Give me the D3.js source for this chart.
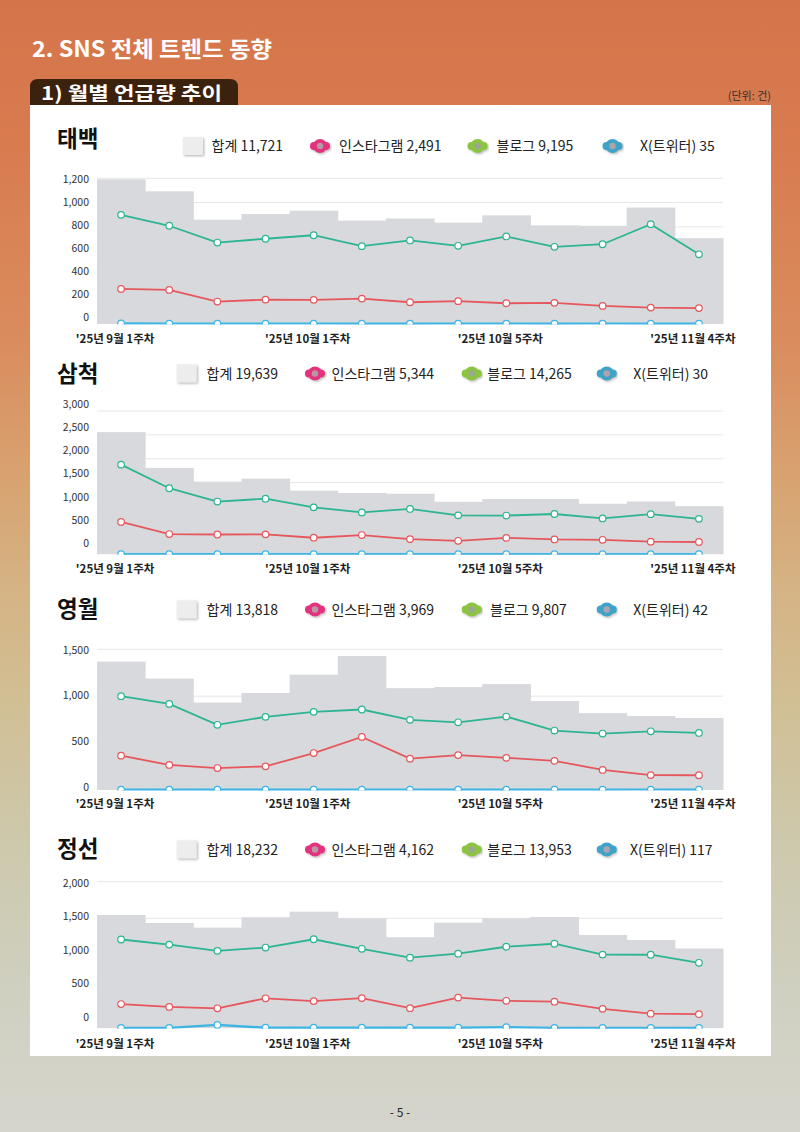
<!DOCTYPE html>
<html><head><meta charset="utf-8">
<script src="https://cdn.jsdelivr.net/npm/d3@7"></script>
<style>
html,body{margin:0;padding:0;}
body{width:800px;height:1132px;overflow:hidden;}
svg{display:block;font-family:"Noto Sans CJK KR","Noto Sans",sans-serif;}
</style></head><body>
<svg id="c" width="800" height="1132"></svg>
<script>
// ---------------- data ----------------
const weeks = ["'25년 9월 1주차","'25년 9월 2주차","'25년 9월 3주차","'25년 9월 4주차",
  "'25년 10월 1주차","'25년 10월 2주차","'25년 10월 3주차","'25년 10월 4주차","'25년 10월 5주차",
  "'25년 11월 1주차","'25년 11월 2주차","'25년 11월 3주차","'25년 11월 4주차"];
const xTickWeeks = ["'25년 9월 1주차","'25년 10월 1주차","'25년 10월 5주차","'25년 11월 4주차"];
const regions = ["태백","삼척","영월","정선"];
const seriesNames = ["합계","인스타그램","블로그","X(트위터)"];

const taebaekInsta = [289,281,185,201,199,209,179,188,171,174,149,135,131];
const taebaekBlog  = [899,809,671,702,731,641,688,644,721,636,657,822,574];
const taebaekX     = [4,3,3,3,3,2,2,3,3,2,3,2,2];
const taebaekLegend = [11721,2491,9195,35];
const taebaekTicks = [0,200,400,600,800,1000,1200];

const samcheokInsta = [678,424,415,418,347,403,318,283,343,311,304,265,257];
const samcheokBlog  = [1877,1383,1104,1164,983,877,949,815,811,844,751,840,742];
const samcheokX     = [3,2,2,2,2,3,2,2,3,2,3,2,2];
const samcheokLegend = [19639,5344,14265,30];
const samcheokTicks = [0,500,1000,1500,2000,2500,3000];

const yeongwolInsta = [366,267,234,252,394,566,334,372,343,311,214,159,157];
const yeongwolBlog  = [1000,918,695,780,833,858,748,722,783,634,602,626,608];
const yeongwolX     = [3,3,3,3,3,4,4,3,3,3,3,4,3];
const yeongwolLegend = [13818,3969,9807,42];
const yeongwolTicks = [0,500,1000,1500];

const jeongseonInsta = [330,291,272,408,370,411,273,418,374,362,264,198,191];
const jeongseonBlog  = [1211,1141,1056,1101,1214,1084,963,1017,1112,1153,1005,1003,893];
const jeongseonX     = [5,5,45,6,7,6,6,6,15,4,4,4,4];
const jeongseonLegend = [18232,4162,13953,117];
const jeongseonTicks = [0,500,1000,1500,2000];

// ---------------- layout ----------------
const charts = [
  {name:regions[0], insta:taebaekInsta, blog:taebaekBlog, x:taebaekX, legend:taebaekLegend, ticks:taebaekTicks,
   top:178.3, base:324, lTop:179, lBot:317, titleY:139, legY:146, xlabY:339,
   legPos:[[183,211.5],[320,339],[477.5,496.5],[612.5,640]]},
  {name:regions[1], insta:samcheokInsta, blog:samcheokBlog, x:samcheokX, legend:samcheokLegend, ticks:samcheokTicks,
   top:411, base:554.3, lTop:404.5, lBot:542.7, titleY:374, legY:373.5, xlabY:569,
   legPos:[[176.7,206.5],[315,331.5],[471.7,487.3],[606.7,633.3]]},
  {name:regions[2], insta:yeongwolInsta, blog:yeongwolBlog, x:yeongwolX, legend:yeongwolLegend, ticks:yeongwolTicks,
   top:649.3, base:790, lTop:650, lBot:786.7, titleY:609, legY:609.5, xlabY:804,
   legPos:[[176.7,206.5],[315,331.5],[471.7,490],[606.7,633.3]]},
  {name:regions[3], insta:jeongseonInsta, blog:jeongseonBlog, x:jeongseonX, legend:jeongseonLegend, ticks:jeongseonTicks,
   top:881.7, base:1028.2, lTop:882.7, lBot:1016.7, titleY:849, legY:849.5, xlabY:1044,
   legPos:[[176.7,206.5],[315,331.5],[471.7,487.3],[606.7,630]]}
];
const plotL = 97, plotR = 723;
const col = {bar:"#d8d9dd", insta:"#e5575c", blog:"#2db492", x:"#3db5e3", grid:"#e6e6e6",
             iconInsta:"#e5307f", iconBlog:"#8cc43f", iconX:"#3ea3c9"};

const svg = d3.select("#c");
const defs = svg.append("defs");
const bg = defs.append("linearGradient").attr("id","bg").attr("x1",0).attr("y1",0).attr("x2",0).attr("y2",1);
[[0,"#d4744a"],[0.12,"#d87b4f"],[0.3,"#da8c5e"],[0.42,"#d8a270"],[0.52,"#d5b384"],[0.62,"#d1bf94"],
 [0.75,"#cdc9ad"],[0.88,"#d0d0c1"],[1,"#d6d5cd"]].forEach(s=>bg.append("stop").attr("offset",s[0]).attr("stop-color",s[1]));
const sh = defs.append("filter").attr("id","sh").attr("x","-30%").attr("y","-30%").attr("width","160%").attr("height","160%");
sh.append("feDropShadow").attr("dx",1.2).attr("dy",1.2).attr("stdDeviation",0.9).attr("flood-color","#888").attr("flood-opacity",0.6);

svg.append("rect").attr("width",800).attr("height",1132).attr("fill","url(#bg)");

// header
svg.append("text").attr("x",32).attr("y",57).attr("fill","#fff").attr("font-size",22).attr("font-weight","bold")
  .attr("textLength",240).attr("lengthAdjust","spacingAndGlyphs").text("2. SNS 전체 트렌드 동향");
const r = 8, tx0 = 30, tx1 = 238, ty0 = 79, ty1 = 106;
svg.append("path").attr("fill","#3b220f")
  .attr("d",`M${tx0},${ty1}V${ty0+r}Q${tx0},${ty0} ${tx0+r},${ty0}H${tx1-r}Q${tx1},${ty0} ${tx1},${ty0+r}V${ty1}Z`);
svg.append("text").attr("x",41).attr("y",100).attr("fill","#fff").attr("font-size",18.5).attr("font-weight","bold")
  .attr("textLength",181).attr("lengthAdjust","spacingAndGlyphs").text("1) 월별 언급량 추이");
svg.append("text").attr("x",771).attr("y",100).attr("text-anchor","end").attr("fill","#333").attr("font-size",11).text("(단위: 건)");

// panel
svg.append("rect").attr("x",30).attr("y",105).attr("width",741).attr("height",951).attr("fill","#fff");

// page number
svg.append("text").attr("x",400).attr("y",1117).attr("text-anchor","middle").attr("fill","#222").attr("font-size",12).text("- 5 -");

const xB = d3.scaleBand().domain(weeks).range([plotL,plotR]).padding(0);
const cx = w => xB(w) + xB.bandwidth()/2;
const fmt = d3.format(",");

charts.forEach((c,ci)=>{
  const g = svg.append("g");
  const maxT = d3.max(c.ticks);
  const y = d3.scaleLinear().domain([0,maxT]).range([c.base,c.top]);
  const yl = d3.scaleLinear().domain([0,maxT]).range([c.lBot,c.lTop]);
  const rows = weeks.map((w,i)=>({w, insta:c.insta[i], blog:c.blog[i], x:c.x[i], total:c.insta[i]+c.blog[i]+c.x[i]}));

  // title
  g.append("text").attr("x",57).attr("y",c.titleY).attr("dy","0.36em").attr("font-size",22.5).attr("font-weight","bold")
    .attr("fill","#111").text(c.name);

  // legend
  const lg = g.append("g").attr("font-size",14).attr("fill","#222");
  const [p0,p1,p2,p3] = c.legPos;
  lg.append("rect").attr("x",p0[0]).attr("y",c.legY-9).attr("width",20).attr("height",18).attr("fill","#ededed").attr("filter","url(#sh)");
  const icon = (xc,color,inner)=>{
    const ig = lg.append("g").attr("filter","url(#sh)");
    ig.append("line").attr("x1",xc-6).attr("x2",xc+6).attr("y1",c.legY).attr("y2",c.legY)
      .attr("stroke",color).attr("stroke-width",8).attr("stroke-linecap","round");
    ig.append("circle").attr("cx",xc).attr("cy",c.legY).attr("r",7).attr("fill",color);
    ig.append("circle").attr("cx",xc).attr("cy",c.legY).attr("r",3.2).attr("fill",inner);
  };
  icon(p1[0],col.iconInsta,"#b49aa3");
  icon(p2[0],col.iconBlog,"#9aa892");
  icon(p3[0],col.iconX,"#b0a4ac");
  [p0,p1,p2,p3].forEach((p,k)=>{
    lg.append("text").attr("x",p[1]).attr("y",c.legY).attr("dy","0.36em").text(seriesNames[k]+" "+fmt(c.legend[k]));
  });

  // gridlines
  g.append("g").selectAll("line").data(c.ticks.filter(t=>t>0)).join("line")
    .attr("x1",plotL).attr("x2",plotR).attr("y1",d=>y(d)).attr("y2",d=>y(d))
    .attr("stroke",col.grid).attr("stroke-width",1);

  // y labels
  const ya = g.append("g").attr("transform","translate(89,0)")
    .call(d3.axisLeft(yl).tickValues(c.ticks).tickFormat(fmt).tickSize(0).tickPadding(0));
  ya.select(".domain").remove();
  ya.selectAll("text").attr("font-size",10.5).attr("fill","#333").attr("font-family","'Noto Sans CJK KR',sans-serif");

  // clip
  const cid = "clip"+ci;
  defs.append("clipPath").attr("id",cid).append("rect")
    .attr("x",plotL-8).attr("y",c.top-12).attr("width",plotR-plotL+16).attr("height",c.base-c.top+12.5);
  const pg = g.append("g").attr("clip-path",`url(#${cid})`);

  // total bars
  pg.append("g").selectAll("rect").data(rows).join("rect")
    .attr("x",d=>xB(d.w)).attr("width",xB.bandwidth()+0.5)
    .attr("y",d=>y(d.total)).attr("height",d=>c.base-y(d.total)).attr("fill",col.bar);

  const series = [["insta",col.insta],["blog",col.blog],["x",col.x]];
  series.forEach(([k,color])=>{
    const line = d3.line().x(d=>cx(d.w)).y(d=>y(d[k]));
    pg.append("path").datum(rows).attr("d",line).attr("fill","none").attr("stroke",color)
      .attr("stroke-width",k==="x"?2.4:1.8);
    pg.append("g").selectAll("circle").data(rows).join("circle")
      .attr("cx",d=>cx(d.w)).attr("cy",d=>y(d[k])).attr("r",3.3)
      .attr("fill","#fff").attr("stroke",color).attr("stroke-width",1.2);
  });

  // x labels
  const xa = g.append("g").attr("transform",`translate(0,${c.xlabY})`)
    .call(d3.axisBottom(xB).tickValues(xTickWeeks).tickSize(0).tickPadding(0));
  xa.select(".domain").remove();
  xa.selectAll("text").attr("y",0).attr("dy","0.36em").attr("dx",-6).attr("font-size",11.5).attr("font-weight","bold")
    .attr("fill","#222").attr("font-family","'Noto Sans CJK KR',sans-serif");
});
</script>
</body></html>
